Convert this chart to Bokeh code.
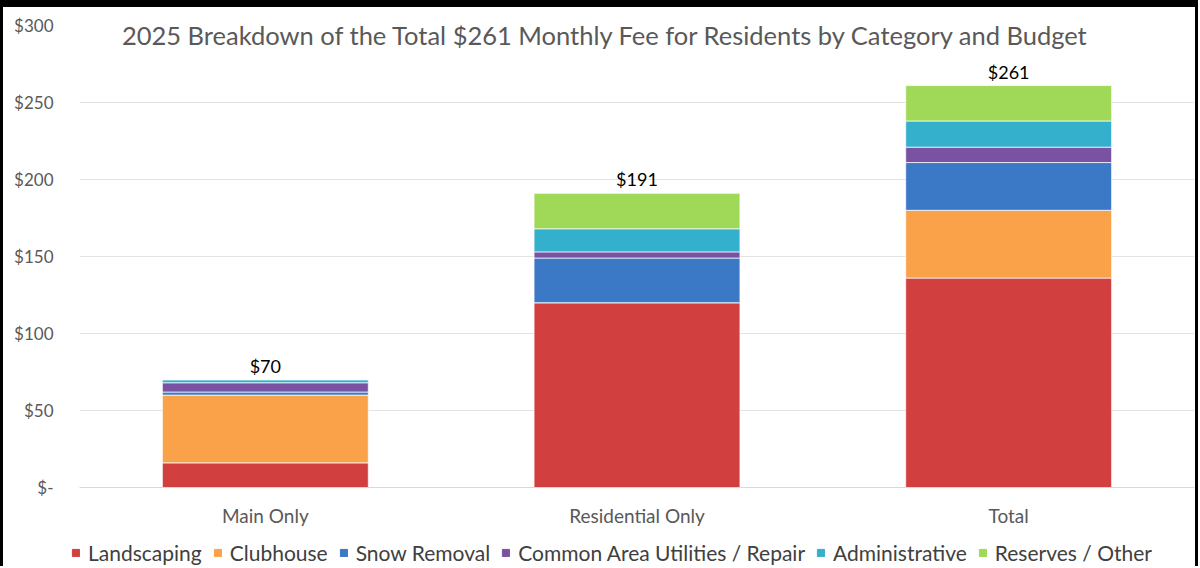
from bokeh.plotting import figure
from bokeh.layouts import column
from bokeh.models import ColumnDataSource, Legend, LegendItem, FixedTicker, Label, LabelSet, FactorRange, Range1d
from bokeh.core.properties import value
from bokeh.embed import file_html
from bokeh.resources import INLINE

categories = ["Main Only", "Residential Only", "Total"]
landscaping = [16, 120, 136]
clubhouse = [44, 0, 44]
snow_removal = [2, 29, 31]
common_area = [6, 4, 10]
administrative = [2, 15, 17]
reserves = [0, 23, 23]
totals = [70, 191, 261]
total_labels = ["$70", "$191", "$261"]
series_names = ["Landscaping", "Clubhouse", "Snow Removal",
                "Common Area Utilities / Repair", "Administrative", "Reserves / Other"]
series_keys = ["landscaping", "clubhouse", "snow_removal", "common_area", "administrative", "reserves"]
colors = ["#d23f3f", "#f9a24a", "#3b78c6", "#7a52a3", "#34b0cc", "#9fd957"]
y_ticks = [0, 50, 100, 150, 200, 250, 300]
y_tick_labels = ["$-", "$50", "$100", "$150", "$200", "$250", "$300"]
title_text = "2025 Breakdown of the Total $261 Monthly Fee for Residents by Category and Budget"

FONT = "Lato"

src = ColumnDataSource(dict(
    x=categories,
    landscaping=landscaping,
    clubhouse=clubhouse,
    snow_removal=snow_removal,
    common_area=common_area,
    administrative=administrative,
    reserves=reserves,
    totals=totals,
    total_labels=total_labels,
))

p = figure(x_range=FactorRange(*categories, range_padding=0), y_range=Range1d(0, 300),
           width=1198, height=534, output_backend="svg", toolbar_location=None,
           min_border_left=79, min_border_right=4, min_border_top=25, min_border_bottom=47)
p.border_fill_color = None
p.background_fill_color = None

renderers = p.vbar_stack(series_keys, x="x", width=0.554, color=colors, source=src,
                         line_color="white", line_width=1, line_alpha=0.7)

labels = LabelSet(x="x", y="totals", text="total_labels", source=src,
                  text_align="center", text_baseline="middle", y_offset=14,
                  text_font=value(FONT), text_font_size="18px", text_color="#000000")
p.add_layout(labels)

title = Label(x=1.417, y=294, text=title_text, text_align="center", text_baseline="middle",
              text_font=FONT, text_font_size="25.5px", text_color="#595959")
p.add_layout(title)

p.yaxis.ticker = FixedTicker(ticks=y_ticks)
p.yaxis.major_label_overrides = {t: l for t, l in zip(y_ticks, y_tick_labels)}
p.yaxis.axis_line_color = None
p.yaxis.major_tick_line_color = None
p.yaxis.minor_tick_line_color = None
p.yaxis.major_label_text_font = FONT
p.yaxis.major_label_text_font_size = "17px"
p.yaxis.major_label_text_color = "#595959"
p.yaxis.major_label_standoff = 20

p.xaxis.axis_line_color = "#d9d9d9"
p.xaxis.major_tick_line_color = None
p.xaxis.minor_tick_line_color = None
p.xaxis.major_label_text_font = FONT
p.xaxis.major_label_text_font_size = "19px"
p.xaxis.major_label_text_color = "#595959"
p.xaxis.major_label_standoff = 10

p.xgrid.grid_line_color = None
p.ygrid.grid_line_color = "#e3e3e3"
p.outline_line_color = None

# legend strip below the chart
pl = figure(width=1198, height=32, output_backend="svg", toolbar_location=None,
            x_range=Range1d(0, 1), y_range=Range1d(0, 1), min_border=0,
            x_axis_location=None, y_axis_location=None)
pl.border_fill_color = None
pl.background_fill_color = None
pl.grid.visible = False
pl.outline_line_color = None

legend_x = 71
aligned = False
for fig in (p, pl):
    if "frame_align" in fig.properties():
        fig.frame_align = False
    else:
        aligned = True
if aligned:
    legend_x = 71 - 79

# off-screen placeholder bars so the legend can draw its colour swatches
legend_renderers = [pl.vbar(x=[5], top=[5], bottom=[4], width=0.1, fill_color=c, line_color=c)
                    for c in colors]
legend = Legend(items=[LegendItem(label=n, renderers=[r]) for n, r in zip(series_names, legend_renderers)],
                orientation="horizontal", location=(legend_x, 1),
                label_text_font=FONT, label_text_font_size="21px", label_text_color="#404040",
                glyph_width=9, glyph_height=9, spacing=11, label_standoff=8,
                border_line_color=None, background_fill_alpha=0, margin=0, padding=0)
pl.add_layout(legend)

layout = column(p, pl, spacing=0,
                styles={"box-shadow": "inset 0 7px 0 #000000, inset 3px 0 0 #000000, inset -3px 0 0 #000000"})

open("out.html", "w").write(file_html(layout, INLINE))
